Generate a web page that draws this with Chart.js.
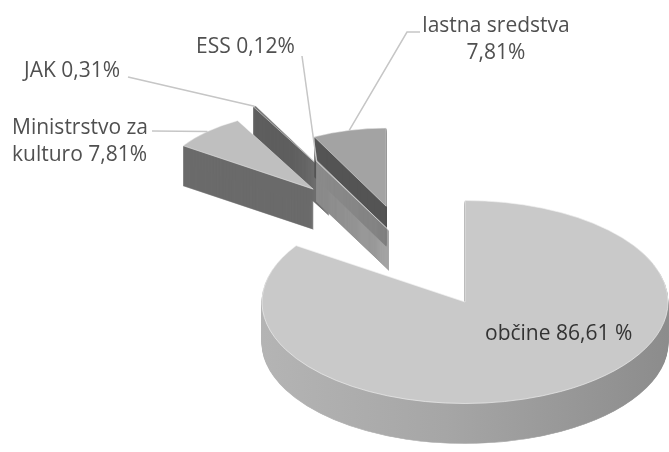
<!DOCTYPE html>
<html>
<head>
<meta charset="utf-8">
<script src="https://cdn.jsdelivr.net/npm/chart.js@4/dist/chart.umd.min.js"></script>
<style>
  html, body { margin: 0; background: #fff; }
  #wrap { width: 669px; height: 452px; }
</style>
</head>
<body>
<div id="wrap"><canvas id="pieChart"></canvas></div>
<script>
// data, clockwise from the first small slice
const categories = ["Ministrstvo za kulturo", "JAK", "ESS", "lastna sredstva", "občine"];
const shares = [7.81, 0.31, 0.12, 7.81, 86.61];
const labelLines = [
    ["Ministrstvo za", "kulturo 7,81%"],
    ["JAK 0,31%"],
    ["ESS 0,12%"],
    ["lastna sredstva", "7,81%"],
    ["občine 86,61 %"]
];

// styling
const topColors = ["#bfbfbf", "#7a7a7a", "#9a9a9a", "#a3a3a3", "#c9c9c9"];
const sideColors = ["#6b6b6b", "#5e5e5e", "#8b8b8b", "#545454", null];
const pull = [1.34, 1.42, 0.8, 1.02, 0];           // explode distance / pie radius
const labelPos = [[12, 134, "left"], [24, 77, "left"], [196, 53, "left"], [496, 32, "center"], [485, 340, "left"]];
const leaderStart = [[152, 131], [128, 77], [302, 56], [420, 32], null];

const center = { x: 465, y: 302 }, bigRadius = 203, tilt = 0.5, depth = 40, smallScale = 0.77;

const pie3d = {
    id: 'pie3d',
    beforeDatasetsDraw(chart) {
        const ctx = chart.ctx;
        const arcs = chart.getDatasetMeta(0).data;
        const R = arcs[0].outerRadius;
        const X = arcs[0].x, Y = arcs[0].y;
        const sx = bigRadius / R;
        const groupMid = (arcs[0].startAngle + arcs[3].endAngle) / 2;
        const rims = [];

        const info = arcs.map((arc, i) => {
            const h = (arc.startAngle + arc.endAngle) / 2;
            const dir = 0.4 * h + 0.6 * groupMid;
            const o = pull[i] * R;
            const ex = Math.cos(dir) * o, ey = Math.sin(dir) * o;
            return { arc, i, h, o, ex, ey, g: o > 0 ? smallScale : 1 };
        });

        // back to front
        const order = info.slice().sort((a, b) => (a.o > 0 ? a.ey : 1e9) - (b.o > 0 ? b.ey : 1e9));

        const bigSide = ctx.createLinearGradient(X - R, 0, X + R, 0);
        bigSide.addColorStop(0, "#b4b4b4");
        bigSide.addColorStop(0.45, "#a6a6a6");
        bigSide.addColorStop(1, "#8c8c8c");

        order.forEach(s => {
            const place = (dy) => {
                ctx.translate(0, dy);
                ctx.translate(center.x, center.y);
                ctx.scale(sx, sx * tilt);
                ctx.translate(s.ex, s.ey);
                ctx.scale(s.g, s.g);
                ctx.translate(-X, -Y);
            };
            const sc = sideColors[s.i] || bigSide;
            const side = Object.create(s.arc);
            side.options = Object.assign({}, s.arc.options, {
                backgroundColor: sc,
                borderColor: sc,
                borderWidth: 1.2
            });
            for (let d = depth; d > 0; d--) {
                ctx.save(); place(d); side.draw(ctx); ctx.restore();
            }
            ctx.save();
            place(0);
            s.arc.draw(ctx);
            const m = ctx.getTransform();
            rims[s.i] = m.transformPoint(new DOMPoint(X + Math.cos(s.h) * R, Y + Math.sin(s.h) * R));
            ctx.restore();
        });

        // leader lines
        ctx.save();
        ctx.strokeStyle = "#c6c6c6";
        ctx.lineWidth = 1.5;
        leaderStart.forEach((p, i) => {
            if (!p) return;
            ctx.beginPath();
            ctx.moveTo(p[0], p[1]);
            if (i === 3) ctx.lineTo(407, 32);
            ctx.lineTo(rims[i].x, rims[i].y);
            ctx.stroke();
        });

        // labels
        ctx.font = "21px 'Open Sans'";
        ctx.textBaseline = "alphabetic";
        labelLines.forEach((lines, i) => {
            const [x, y, align] = labelPos[i];
            ctx.textAlign = align;
            ctx.fillStyle = i === 4 ? "#333333" : "#505050";
            lines.forEach((t, k) => ctx.fillText(t, x, y + k * 27));
        });
        ctx.restore();
        return false;
    }
};

const total = shares.reduce((a, b) => a + b, 0);
const smallSum = shares.slice(0, 4).reduce((a, b) => a + b, 0);

new Chart(document.getElementById('pieChart'), {
    type: 'pie',
    data: {
        labels: categories,
        datasets: [{
            data: shares,
            backgroundColor: topColors,
            borderColor: "#efefef",
            borderWidth: 1,
            offset: 0,
            hoverOffset: 0
        }]
    },
    options: {
        responsive: true,
        maintainAspectRatio: false,
        animation: false,
        rotation: -360 * smallSum / total,
        layout: { padding: 0 },
        plugins: {
            legend: { display: false },
            tooltip: { enabled: false }
        },
        events: []
    },
    plugins: [pie3d]
});
</script>
</body>
</html>
